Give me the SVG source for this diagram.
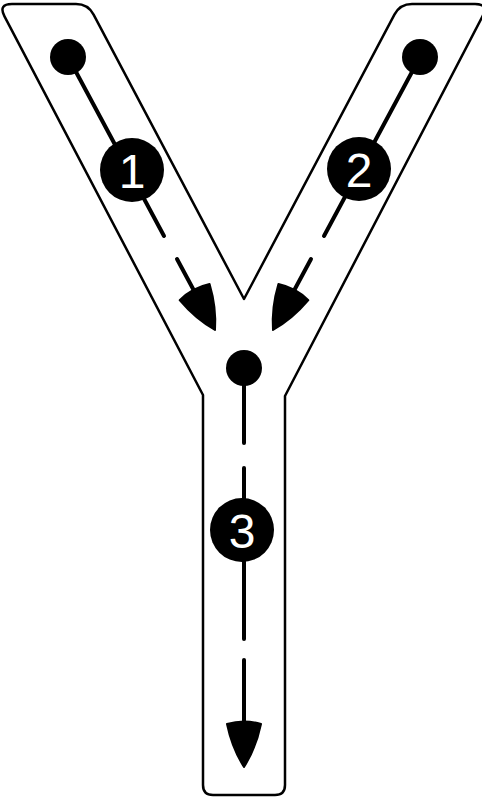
<svg xmlns="http://www.w3.org/2000/svg" width="482" height="800" viewBox="0 0 482 800">
  <style>
    .outline { fill: #ffffff; stroke: #000000; stroke-width: 2.5; stroke-linejoin: round; }
    .dot { fill: #000000; }
    .badge { fill: #000000; }
    .num { fill: #ffffff; font-family: "Liberation Sans", "DejaVu Sans", sans-serif; font-size: 48px; text-anchor: middle; }
    .trace { fill: none; stroke: #000000; stroke-width: 4; stroke-linecap: round; }
    .head { fill: #000000; stroke: #000000; stroke-width: 2; stroke-linejoin: round; }
  </style>
  <defs>
    <path id="arrowhead" class="head" d="M-17,-43 Q0,-48 17,-43 Q12,-19 0,0 Q-12,-19 -17,-43 Z"/>
  </defs>
  <rect width="482" height="800" fill="#ffffff"/>
  <g id="letter-outline">
    <path class="outline" d="M4.5,16.4 Q-2,4 12,4 L76,4 Q88,4 93.6,14.6 L244,299 L394.4,14.6 Q400,4 412,4 L475,4 Q489,4 482.5,16.4 L285,396 L285,785 Q285,795 275,795 L213,795 Q203,795 203,785 L203,395 Z"/>
  </g>
  <g id="connectors">
    <path class="trace" d="M68,57 L164,236"/>
    <path class="trace" d="M177,259 L206,313"/>
    <path class="trace" d="M420,57 L324,236"/>
    <path class="trace" d="M311,259 L282,313"/>
    <path class="trace" d="M244,368 L244,443"/>
    <path class="trace" d="M244,468 L244,639"/>
    <path class="trace" d="M244,660 L244,740"/>
    <use href="#arrowhead" transform="translate(215,330) rotate(-28.3)"/>
    <use href="#arrowhead" transform="translate(273,330) rotate(28.3)"/>
    <use href="#arrowhead" transform="translate(244,767)"/>
  </g>
  <g id="start-1"><circle class="dot" cx="68" cy="57" r="18"/></g>
  <g id="start-2"><circle class="dot" cx="420" cy="57" r="18"/></g>
  <g id="start-3"><circle class="dot" cx="244" cy="368" r="18"/></g>
  <g id="step-1">
    <circle class="badge" cx="132" cy="170" r="32"/>
    <text class="num" x="132" y="188">1</text>
  </g>
  <g id="step-2">
    <circle class="badge" cx="359" cy="169" r="32"/>
    <text class="num" x="359" y="187">2</text>
  </g>
  <g id="step-3">
    <circle class="badge" cx="242" cy="530" r="32"/>
    <text class="num" x="242" y="548">3</text>
  </g>
</svg>
